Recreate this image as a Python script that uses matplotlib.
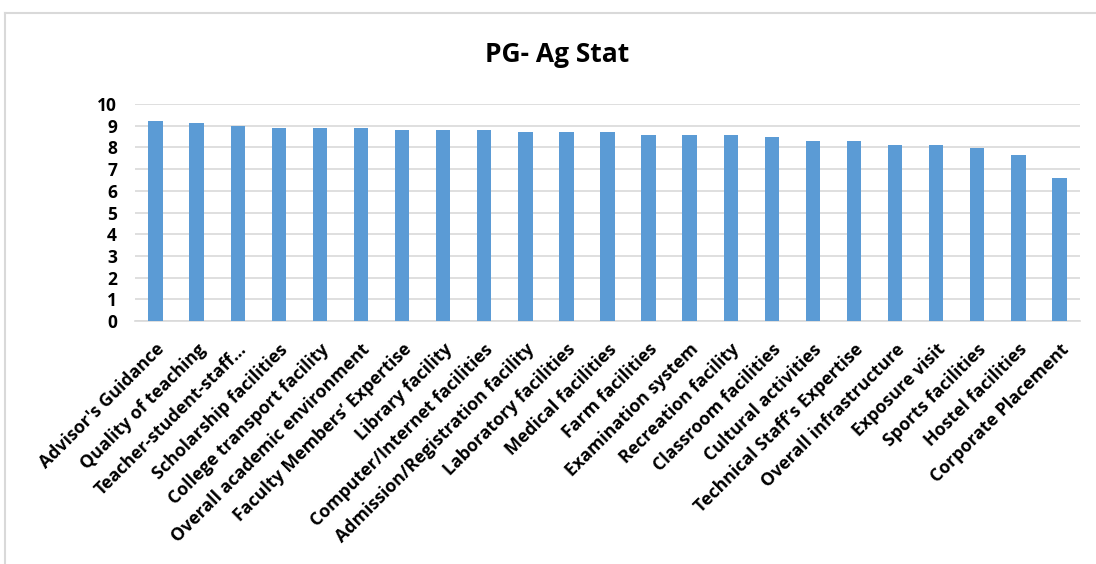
import matplotlib.pyplot as plt
from matplotlib.lines import Line2D

categories = [
    "Advisor's Guidance", "Quality of teaching", "Teacher-student-staff...",
    "Scholarship facilities", "College transport facility",
    "Overall academic environment", "Faculty Members\u2019 Expertise",
    "Library facility", "Computer/Internet facilities",
    "Admission/Registration facility", "Laboratory facilities",
    "Medical facilities", "Farm facilities", "Examination system",
    "Recreation facility", "Classroom facilities", "Cultural activities",
    "Technical Staff\u2019s Expertise", "Overall infrastructure",
    "Exposure visit", "Sports facilities", "Hostel facilities",
    "Corporate Placement",
]
scores = [9.23, 9.12, 9.0, 8.91, 8.91, 8.91, 8.8, 8.8, 8.8, 8.69, 8.69,
          8.69, 8.58, 8.58, 8.58, 8.48, 8.31, 8.31, 8.09, 8.09, 7.98,
          7.66, 6.58]
y_ticks = list(range(0, 11))

plt.rcParams['font.family'] = ['Open Sans', 'DejaVu Sans']

fig = plt.figure(figsize=(10.96, 5.64), dpi=100)
# light frame around the chart (left and top edges visible)
bx, by = 5 / 1096, 1 - 13 / 564
fig.add_artist(Line2D([bx, bx], [0, by], transform=fig.transFigure,
                      color="#D9D9D9", linewidth=1.5))
fig.add_artist(Line2D([bx, 1], [by, by], transform=fig.transFigure,
                      color="#D9D9D9", linewidth=1.5))

ax = fig.add_axes([135 / 1096, 1 - 321 / 564, 945 / 1096, 217 / 564])

x = range(len(categories))
ax.bar(x, scores, width=0.35, color="#5B9BD5", zorder=3)

ax.set_xlim(-0.5, len(categories) - 0.5)
ax.set_ylim(0, 10)
ax.set_yticks(y_ticks)
ax.set_yticklabels([str(v) for v in y_ticks], fontsize=12.5, fontweight="bold")
ax.yaxis.grid(True, color="#D9D9D9", linewidth=1.2, zorder=0)
ax.set_xticks(list(x))
ax.set_xticklabels(categories, rotation=45, ha="right", rotation_mode="anchor",
                   fontsize=12.8, fontweight="bold")
ax.tick_params(axis="both", length=0)
ax.tick_params(axis="x", pad=14)
ax.tick_params(axis="y", pad=13)
for s in ["top", "right", "left"]:
    ax.spines[s].set_visible(False)
ax.spines["bottom"].set_color("#D9D9D9")
ax.spines["bottom"].set_linewidth(1.2)

fig.text(557 / 1096, 1 - 55 / 564, "PG- Ag Stat", ha="center", va="center",
         fontsize=19, fontweight="bold")

fig.savefig("out.png", dpi=100)
